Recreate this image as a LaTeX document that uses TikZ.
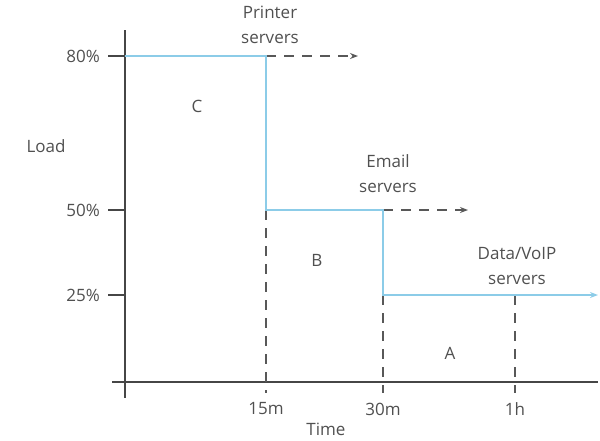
\documentclass[tikz,border=0pt]{standalone}
\usepackage{fontspec}
\setmainfont{Open Sans}
\usepackage{tikz}
\usetikzlibrary{arrows.meta}
\definecolor{loadblue}{RGB}{140,204,232}
\definecolor{axisgray}{RGB}{70,70,70}
\definecolor{textgray}{RGB}{80,80,80}
\tikzstyle{axis} = [axisgray, line width=1.1pt]
\tikzstyle{loadline} = [loadblue, line width=1.4pt]
\tikzstyle{future} = [axisgray!90, line width=1.2pt, dash pattern=on 10pt off 8pt, -{Stealth[length=8pt,width=6pt]}]
\tikzstyle{guide} = [axisgray!90, line width=1.2pt, dash pattern=on 10pt off 8pt]
\tikzstyle{lbl} = [text=textgray, font=\fontsize{17}{25}\selectfont, inner sep=0pt]
\tikzstyle{srv} = [lbl, align=center]

\begin{document}
\begin{tikzpicture}[x=1pt, y=-1pt]
		\useasboundingbox (0,0) rectangle (600,440);
		
		% axes
		\coordinate (origin) at (125,382);
		\draw [axis] (125,30) -- (125,398);
		\draw [axis] (112,382) -- (598,382);
		\draw [axis] (108,56) -- (125,56);
		\draw [axis] (108,210) -- (125,210);
		\draw [axis] (108,295) -- (125,295);
		
		% step points
		\coordinate (p80) at (125,56);
		\coordinate (c15top) at (266,56);
		\coordinate (c15mid) at (266,210);
		\coordinate (c30mid) at (383,210);
		\coordinate (c30low) at (383,295);
		\coordinate (c1hlow) at (515,295);
		\coordinate (endlow) at (598,295);
		\coordinate (endtop) at (358,56);
		\coordinate (endmid) at (468,210);
		\coordinate (t15) at (266,393);
		\coordinate (t30) at (383,393);
		\coordinate (t1h) at (515,393);
		
		\draw [guide] (c15mid) -- (t15);
		\draw [guide] (c30low) -- (t30);
		\draw [guide] (c1hlow) -- (t1h);
		\draw [future] (c15top) -- (endtop);
		\draw [future] (c30mid) -- (endmid);
		\draw [loadline, -{Stealth[length=8pt,width=6pt]}] (p80) -- (c15top) -- (c15mid) -- (c30mid) -- (c30low) -- (endlow);
		
		% labels
		\node (l80) [lbl, anchor=east] at (100,56) {80\%};
		\node (l50) [lbl, anchor=east] at (100,210) {50\%};
		\node (l25) [lbl, anchor=east] at (100,295) {25\%};
		\node (load) [lbl] at (46,146) {Load};
		\node (m15) [lbl] at (266,409) {15m};
		\node (m30) [lbl] at (383,409) {30m};
		\node (h1) [lbl] at (515,409) {1h};
		\node (time) [lbl] at (326,429) {Time};
		\node (regC) [lbl] at (197,106) {C};
		\node (regB) [lbl] at (317,260) {B};
		\node (regA) [lbl] at (450,353) {A};
		\node (printer) [srv] at (270,25) {Printer\\servers};
		\node (email) [srv] at (388,174) {Email\\servers};
		\node (voip) [srv] at (517,266) {Data/VoIP\\servers};
		
\end{tikzpicture}
\end{document}
